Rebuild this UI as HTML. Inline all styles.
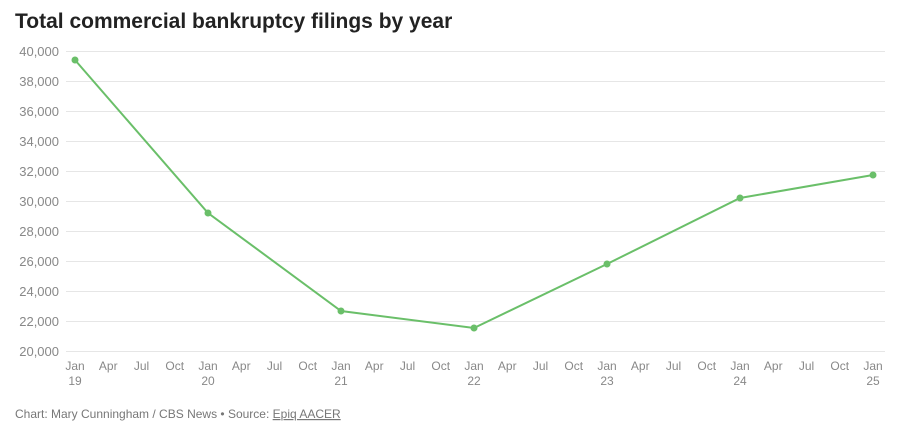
<!DOCTYPE html>
<html><head><style>
body{margin:0;background:#fff;width:911px;height:429px;overflow:hidden;font-family:"Liberation Sans",sans-serif}
</style></head><body>
<svg width="911" height="429" xmlns="http://www.w3.org/2000/svg" font-family="Liberation Sans, sans-serif">
<text x="15" y="28" font-size="21" font-weight="bold" fill="#222">Total commercial bankruptcy filings by year</text>
<g id="grid" stroke="#e6e6e6" stroke-width="1"></g>
<g id="yl" font-size="13" fill="#888" text-anchor="end"></g>
<g id="xl" font-size="12" fill="#888" text-anchor="middle"></g>
<polyline fill="none" stroke="#6abf69" stroke-width="2" points="75,60 208,213 341,311 474,328 607,264 740,198 873,175"/>
<g fill="#6abf69">
<circle cx="75" cy="60" r="3.5"/><circle cx="208" cy="213" r="3.5"/><circle cx="341" cy="311" r="3.5"/><circle cx="474" cy="328" r="3.5"/><circle cx="607" cy="264" r="3.5"/><circle cx="740" cy="198" r="3.5"/><circle cx="873" cy="175" r="3.5"/>
</g>
<text x="15" y="418" font-size="12" fill="#777">Chart: Mary Cunningham / CBS News • Source: <tspan text-decoration="underline">Epiq AACER</tspan></text>
<script>
var ns="http://www.w3.org/2000/svg",g=document.getElementById("grid"),yl=document.getElementById("yl"),xl=document.getElementById("xl");
for(var i=0;i<=10;i++){var y=51+30*i;var l=document.createElementNS(ns,"line");l.setAttribute("x1",66);l.setAttribute("x2",885);l.setAttribute("y1",y+.5);l.setAttribute("y2",y+.5);g.appendChild(l);
var t=document.createElementNS(ns,"text");t.setAttribute("x",59);t.setAttribute("y",y+5);t.textContent=(40000-2000*i).toLocaleString("en-US");yl.appendChild(t);}
var m=["Jan","Apr","Jul","Oct"];
for(var k=0;k<=24;k++){var x=75+133*k/4;var t=document.createElementNS(ns,"text");t.setAttribute("x",x);t.setAttribute("y",370);t.textContent=m[k%4];xl.appendChild(t);
if(k%4==0){var u=document.createElementNS(ns,"text");u.setAttribute("x",x);u.setAttribute("y",385);u.textContent=19+k/4;xl.appendChild(u);}}
</script>
</svg>
</body></html>
